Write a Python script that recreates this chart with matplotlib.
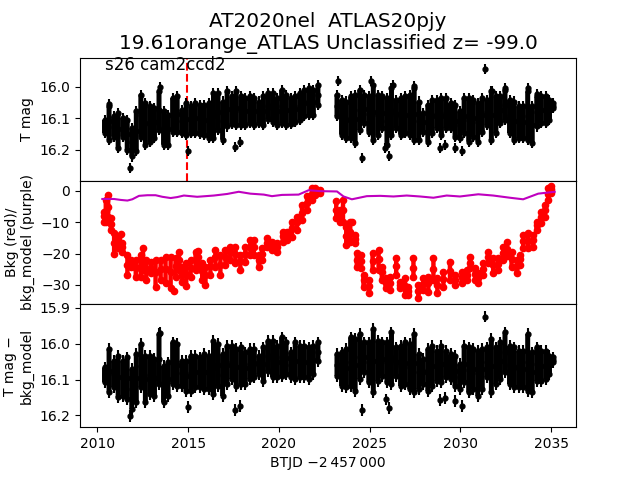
import matplotlib
matplotlib.use("Agg")
import matplotlib.pyplot as plt

MAG_BASE = 16.0
time_a = [2010.40,2010.65,2010.90,2011.15,2011.40,2011.65,2011.90,2012.15,2012.40,2012.65,2012.90,2013.15,2013.40,2013.65,2013.90,2014.15,2014.40,2014.65,2014.90,2015.15,2015.40,2015.65,2015.90,2016.15,2016.40,2016.65,2016.90,2017.15,2017.40,2017.65,2017.90,2018.15,2018.40,2018.65,2018.90,2019.15,2019.40,2019.65,2019.90,2020.15,2020.40,2020.65,2020.90,2021.15,2021.40,2021.65,2021.90,2022.15]
time_b = [2023.20,2023.45,2023.70,2023.95,2024.20,2024.45,2024.70,2024.95,2025.20,2025.45,2025.70,2025.95,2026.20,2026.45,2026.70,2026.95,2027.20,2027.45,2027.70,2027.95,2028.20,2028.45,2028.70,2028.95,2029.20,2029.45,2029.70,2029.95,2030.20,2030.45,2030.70,2030.95,2031.20,2031.45,2031.70,2031.95,2032.20,2032.45,2032.70,2032.95,2033.20,2033.45,2033.70,2033.95,2034.20,2034.45,2034.70,2034.90,2035.08]

# T mag, offsets from MAG_BASE
t_hi_a = [.105,.062,.094,.084,.099,.105,.131,.078,.025,.052,.062,.068,.015,.078,.089,.036,.031,.073,.052,.062,.052,.057,.057,.052,.020,.020,.047,.015,.031,.015,.031,.036,.031,.036,.047,.031,.020,.020,.036,.010,.025,.036,.031,.020,.010,.004,.010,-.006]
t_mid_a = [.125,.110,.128,.135,.130,.150,.175,.140,.090,.115,.118,.112,.075,.130,.135,.090,.088,.110,.102,.105,.100,.103,.106,.108,.090,.080,.108,.070,.075,.068,.076,.078,.073,.078,.080,.076,.060,.066,.078,.062,.073,.078,.072,.062,.052,.046,.050,.026]
t_lo_a = [.147,.168,.158,.195,.158,.200,.221,.205,.158,.184,.174,.163,.137,.184,.184,.142,.144,.147,.152,.147,.147,.150,.154,.163,.163,.137,.168,.126,.119,.121,.121,.121,.115,.121,.115,.121,.102,.112,.121,.115,.121,.119,.113,.105,.094,.089,.089,.057]
t_hi_b = [.025,.041,.047,.031,.025,.010,.025,.031,-.006,.025,.031,.036,.004,.041,.036,.031,.025,.004,.047,.084,.057,.041,.041,.036,.036,.052,.057,.078,.036,.036,.041,.052,.036,.041,.015,.031,.031,.010,.041,.047,.062,.062,.015,.062,.031,.031,.031,.041,.052]
t_mid_b = [.060,.095,.105,.098,.102,.075,.070,.087,.080,.090,.082,.110,.078,.086,.094,.090,.089,.086,.108,.112,.116,.094,.086,.094,.084,.092,.108,.120,.092,.105,.100,.113,.089,.081,.091,.089,.073,.058,.094,.108,.113,.113,.092,.120,.079,.073,.073,.073,.060]
t_lo_b = [.094,.152,.163,.163,.179,.137,.115,.142,.168,.152,.131,.184,.152,.131,.152,.147,.152,.168,.168,.142,.174,.147,.131,.152,.131,.131,.158,.163,.147,.174,.158,.174,.142,.121,.168,.147,.115,.105,.147,.168,.163,.163,.168,.179,.126,.115,.115,.105,.068]
t_out_time = [2010.65,2011.81,2013.43,2014.99,2017.61,2017.85,2023.23,2024.55,2025.10,2025.85,2026.07,2026.31,2027.46,2028.87,2029.15,2029.70,2030.10,2031.35,2031.75,2032.45,2033.73,2034.22]
t_out_val = [.056,.258,.000,.205,.192,.174,-.019,.226,-.019,.195,.219,-.006,-.001,.195,.184,.193,.205,-.056,.015,.004,.004,.022]

# detrended mag, offsets from MAG_BASE
d_hi_a = [.066,.015,.048,.034,.048,.038,.071,.029,.001,.034,.034,.043,-.027,.062,.052,-.004,.001,.048,.048,.034,.034,.038,.029,.034,-.008,.001,.029,.006,.006,.015,.010,.024,.015,.015,.034,.010,-.008,-.008,.006,-.018,-.004,.024,-.004,.006,.006,.010,.006,-.004]
d_mid_a = [.087,.076,.085,.092,.097,.097,.127,.097,.062,.099,.088,.095,.043,.113,.099,.055,.060,.083,.090,.083,.078,.080,.078,.080,.066,.060,.088,.060,.052,.066,.062,.068,.057,.055,.060,.057,.034,.043,.050,.036,.040,.059,.048,.050,.050,.055,.045,.022]
d_lo_a = [.108,.136,.122,.150,.146,.155,.183,.164,.122,.164,.141,.146,.113,.164,.146,.113,.118,.118,.132,.132,.122,.122,.127,.127,.141,.118,.146,.113,.099,.118,.113,.113,.099,.094,.085,.104,.076,.094,.094,.090,.085,.094,.099,.094,.094,.099,.085,.048]
d_hi_b = [.029,.024,.015,-.018,-.013,-.027,-.004,-.004,-.041,-.008,-.004,-.004,-.032,.010,.006,-.004,.001,-.027,.029,.043,.015,.006,.020,.006,.020,.029,.034,.057,.006,.010,.015,.020,.015,.010,-.013,.010,-.004,-.032,.006,.010,.020,.020,-.027,.024,.010,.020,.020,.034,.038]
d_mid_b = [.060,.071,.068,.050,.060,.036,.038,.052,.048,.048,.043,.052,.040,.050,.062,.054,.064,.054,.078,.078,.074,.062,.062,.057,.057,.064,.076,.092,.057,.073,.071,.083,.071,.052,.062,.062,.048,.024,.060,.066,.071,.071,.052,.080,.057,.062,.060,.060,.045]
d_lo_b = [.090,.118,.122,.118,.132,.099,.080,.108,.136,.104,.090,.108,.113,.090,.118,.113,.127,.136,.127,.113,.132,.118,.104,.108,.094,.099,.118,.127,.108,.136,.127,.146,.127,.094,.136,.113,.099,.080,.113,.122,.122,.122,.132,.136,.104,.104,.099,.085,.052]
d_out_time = [2011.80,2013.43,2014.99,2017.61,2017.85,2024.55,2025.89,2026.07,2028.87,2029.15,2029.70,2030.10,2031.35]
d_out_val = [.202,-.030,.176,.185,.174,.185,.155,.180,.157,.152,.160,.174,-.076]

# background (red)
bkg_time = [2010.38,2010.47,2010.60,2010.75,2010.93,2011.15,2011.38,2011.66,2011.88,2012.12,2012.39,2012.52,2012.70,2012.94,2013.21,2013.49,2013.76,2014.04,2014.31,2014.50,2014.68,2014.90,2015.14,2015.41,2015.54,2015.78,2015.96,2016.23,2016.51,2016.78,2017.06,2017.33,2017.61,2017.88,2018.16,2018.43,2018.62,2018.89,2019.07,2019.35,2019.62,2019.90,2020.21,2020.45,2020.72,2021.00,2021.27,2021.55,2021.82,2022.00,2022.25,
            2023.16,2023.34,2023.53,2023.71,2023.93,2024.20,2024.29,2024.51,2024.66,2024.97,2025.16,2025.49,2025.67,2025.89,2026.13,2026.46,2026.68,2026.95,2027.13,2027.41,2027.68,2027.96,2028.23,2028.51,2028.73,2029.06,2029.42,2029.70,2030.06,2030.34,2030.52,2030.80,2030.98,2031.25,2031.53,2031.80,2032.08,2032.35,2032.54,2032.81,2033.09,2033.27,2033.45,2033.73,2034.00,2034.19,2034.46,2034.64,2034.83,2035.01]
bkg_hi = [-6.6,-2.9,-1.3,-8.7,-13.5,-15.1,-16.7,-20.4,-22,-22,-20.4,-18.3,-22,-22.6,-22,-22,-21.2,-21.2,-21.5,-19.4,-24.2,-23,-22,-19.4,-19.1,-23.1,-24.2,-22,-18.8,-20.4,-18.8,-17.8,-17.8,-20.4,-17.8,-15.7,-15.7,-20.4,-18.3,-15.1,-16.2,-16.7,-13,-13,-9.8,-8.2,-4.5,-1.8,.9,.9,.3,
          -3.4,-6.1,-2.9,-11.4,-9.8,-14.1,-19.9,-20.4,-26.8,-28.4,-19.9,-18.8,-24.2,-27.9,-27.4,-21.5,-29,-27.9,-30.6,-21.5,-30,-27.9,-27.4,-21.5,-27.9,-25.8,-22.6,-26.8,-25.8,-25.2,-21,-24.7,-26.3,-23.1,-19.4,-21.5,-21.5,-17.8,-16.2,-19.4,-22,-20.4,-14.1,-13.5,-14.1,-9.8,-6.6,-4.5,.9,1.4]
bkg_mid = [-8,-6.5,-5,-10.5,-16.5,-16.5,-18,-23.5,-23,-24.7,-24,-22,-25,-24.5,-26,-25,-25,-26,-24,-22,-26.5,-26.5,-24.5,-22,-21,-25.5,-27,-24,-21,-23.5,-21,-19.5,-20,-22.5,-20,-18,-18,-22,-20,-16.5,-17.5,-18,-14.5,-14,-12,-10,-7,-4,-1,0,-.2,
           -6,-7.5,-6,-14.5,-13,-15.3,-22,-22.5,-28.5,-30.5,-22.5,-21.8,-26,-29.5,-29.5,-24,-30,-30.5,-32,-24.5,-32,-29.8,-29.5,-25,-30,-28,-25.5,-28.4,-27.5,-26.8,-23,-26.5,-27.8,-25,-21,-23.8,-23.3,-19.8,-18.5,-21.8,-24,-21.8,-16,-16,-15.8,-11,-8.3,-6,-.9,.6]
bkg_lo = [-9.8,-9.8,-8.2,-12.5,-20.2,-18.3,-19.4,-26.8,-24.2,-27.4,-27.4,-25.2,-28.4,-26.3,-30.6,-28.4,-29.5,-31,-27.4,-25.2,-29,-30.4,-27.4,-25.2,-23.6,-28.4,-30,-26.8,-24.2,-26.8,-23.6,-22,-23.1,-25.2,-22.6,-20.4,-20.4,-24.2,-22,-17.8,-18.8,-19.4,-16.2,-15.7,-14.6,-12.5,-9.3,-6.1,-2.9,-1.3,-.7,
          -8.7,-9.8,-9.8,-17.3,-16.2,-16.7,-24.2,-24.7,-30.6,-32.7,-25.2,-25.2,-28.4,-31.1,-31.6,-26.8,-31.1,-33.2,-33.2,-27.4,-34.3,-31.6,-32.2,-28.4,-32.7,-30.6,-28.4,-30,-29.5,-28.4,-24.7,-28.4,-29.5,-26.8,-23.1,-26.3,-25.2,-22,-20.9,-24.2,-26.3,-23.6,-18.3,-18.3,-17.8,-12.5,-10.3,-8.2,-2.9,-.7]
bkg_out_time = [2011.31,2014.22,2024.02]
bkg_out_val = [-13.7,-31.9,-10]

# background model (purple)
model_time = [2010.28,2010.92,2011.29,2011.66,2011.93,2012.30,2012.76,2013.21,2013.58,2014.04,2014.40,2014.77,2015.50,2016.42,2017.15,2017.79,2018.43,2019.17,2019.62,2020.17,2021.09,2021.64,2022.28,2023.20,2023.56,2024.02,2024.84,2025.58,2026.31,2027.04,2027.77,2028.51,2029.24,2029.97,2030.98,2031.80,2032.72,2033.45,2034.28,2035.19]
model_val = [-2.6,-2.6,-2.9,-3.1,-2.7,-1.6,-1.4,-1.4,-1.9,-2.3,-2,-1.5,-1.9,-1.5,-1,-.3,-.9,-1.2,-1.7,-1.3,-1.2,.2,-.1,-.2,-1.8,-2.7,-1.7,-1.6,-1.8,-1.5,-1.8,-2.2,-1.5,-1.8,-1.1,-1.5,-2.2,-2.7,-.9,-.3]

event_time = 2014.93
title_text = "AT2020nel  ATLAS20pjy\n19.61orange_ATLAS Unclassified z= -99.0"
sector_text = "s26 cam2ccd2"
x_ticks = [2010,2015,2020,2025,2030,2035]

fig, (ax1, ax2, ax3) = plt.subplots(3, 1, sharex=True, figsize=(6.4, 4.8), dpi=100)
fig.subplots_adjust(hspace=0)

def draw(ax, base, rows, out_t, out_v):
    # The reference band is saturated: each sampled column spans its read-off range.
    for t, hi, mid, lo in rows:
        ax.vlines(t, [base + v for v in hi], [base + v for v in lo], color='k', lw=3.6, zorder=3, snap=False)
        for vals in (hi, mid, lo):
            ax.errorbar(t, [base + v for v in vals], yerr=0.016, fmt='.', color='k',
                        ms=7, elinewidth=1.5, zorder=3)
    ax.errorbar(out_t, [base + v for v in out_v], yerr=0.016, fmt='.', color='k',
                ms=7, elinewidth=1.5, zorder=3)

ax1.axvline(event_time, color='r', ls='--', lw=1.5, zorder=1)
draw(ax1, MAG_BASE, [(time_a, t_hi_a, t_mid_a, t_lo_a), (time_b, t_hi_b, t_mid_b, t_lo_b)], t_out_time, t_out_val)
ax1.set_ylim(16.298, 15.908)
ax1.set_yticks([16.0, 16.1, 16.2])
ax1.set_ylabel("T mag")
ax1.set_title(title_text, fontsize=14.4)
ax1.text(2010.45, 15.931, sector_text, fontsize=12, va='center')

ax2.vlines(bkg_time, bkg_hi, bkg_lo, color='r', lw=3.2, zorder=2, snap=False)
for vals in (bkg_hi, bkg_mid, bkg_lo):
    ax2.plot(bkg_time, vals, '.', color='r', ms=9, zorder=2)
ax2.plot(bkg_out_time, bkg_out_val, '.', color='r', ms=9, zorder=2)
ax2.plot(model_time, model_val, '-', color='m', lw=1.5, zorder=3)
ax2.set_ylim(-36.1, 3.2)
ax2.set_yticks([0, -10, -20, -30])
ax2.set_ylabel("Bkg (red)/\nbkg_model (purple)")

draw(ax3, MAG_BASE, [(time_a, d_hi_a, d_mid_a, d_lo_a), (time_b, d_hi_b, d_mid_b, d_lo_b)], d_out_time, d_out_val)
ax3.set_ylim(16.233, 15.889)
ax3.set_yticks([15.9, 16.0, 16.1, 16.2])
ax3.set_ylabel("T mag \u2212\nbkg_model")
ax3.set_xticks(x_ticks)
ax3.set_xlim(2009.05, 2036.36)
ax3.set_xlabel("BTJD \u22122\u2009457\u2009000")
ax1.tick_params(bottom=False)
ax2.tick_params(bottom=False)

fig.savefig("out.png", dpi=100)
